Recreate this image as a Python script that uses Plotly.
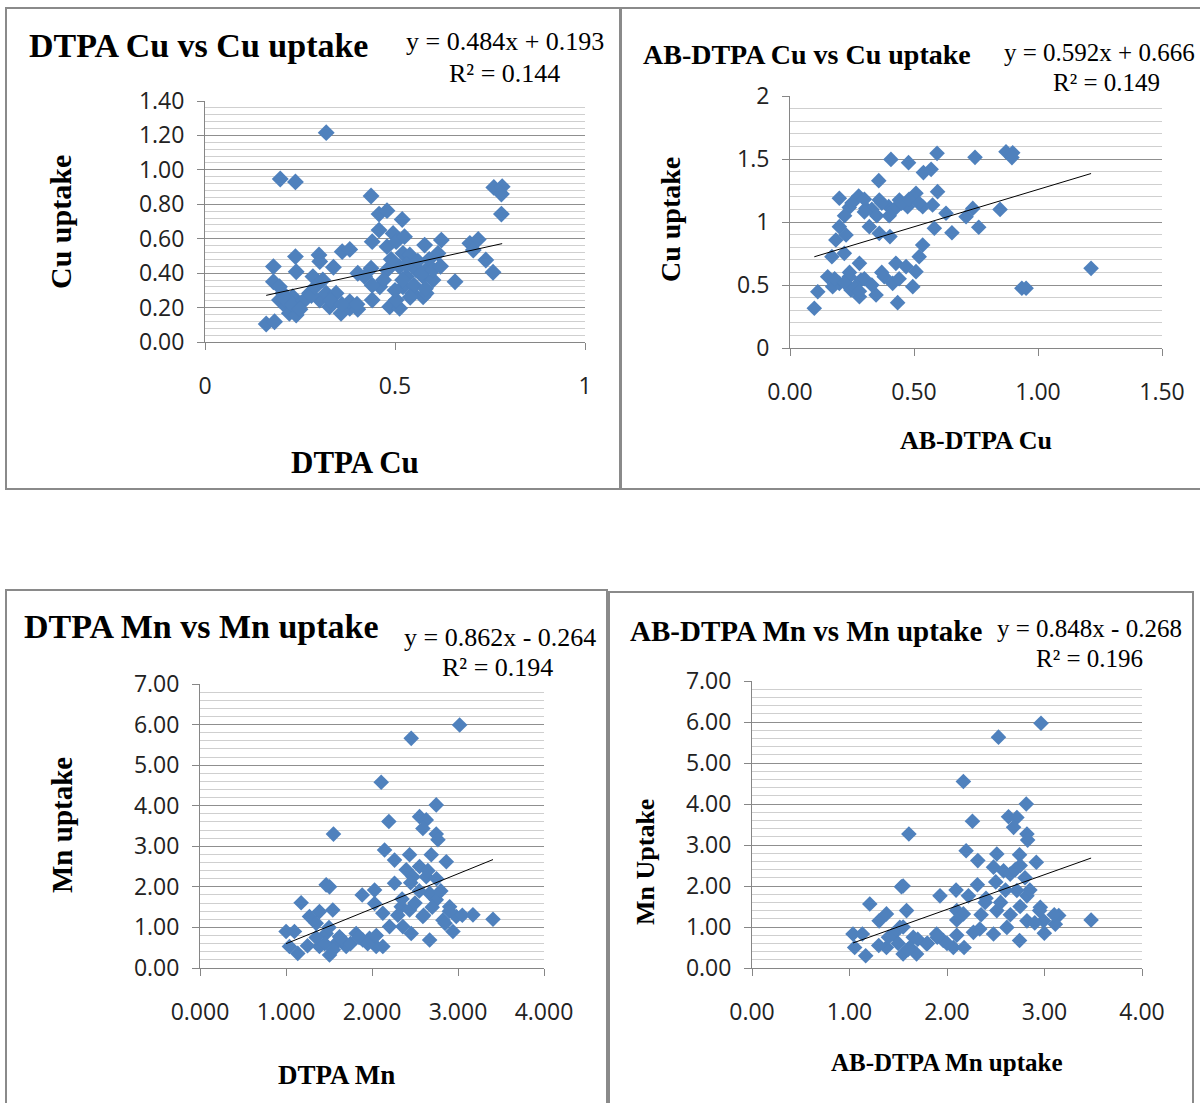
import plotly.graph_objects as go

# ---------------- data ----------------
cu_dtpa_x = [0.319, 0.198, 0.238, 0.437, 0.458, 0.479, 0.519, 0.760, 0.782, 0.780, 0.780,
             0.440, 0.458, 0.479, 0.495, 0.503, 0.525, 0.521, 0.539, 0.578, 0.622, 0.613,
             0.697, 0.719, 0.706, 0.739, 0.758, 0.658, 0.361, 0.381, 0.300, 0.302, 0.238,
             0.240, 0.180, 0.180, 0.338, 0.284, 0.402, 0.437, 0.460, 0.440, 0.479, 0.512,
             0.530, 0.556, 0.574, 0.591, 0.600, 0.521, 0.547, 0.574, 0.582, 0.486, 0.512,
             0.503, 0.161, 0.183, 0.196, 0.214, 0.222, 0.240, 0.253, 0.231, 0.205, 0.275,
             0.302, 0.319, 0.345, 0.358, 0.381, 0.381, 0.402, 0.196, 0.328,
             0.530, 0.550, 0.570, 0.590, 0.600, 0.560, 0.520, 0.500, 0.540, 0.580, 0.620,
             0.490, 0.470, 0.440, 0.420, 0.210, 0.230, 0.260, 0.280, 0.250, 0.330, 0.360,
             0.400, 0.290, 0.310]
cu_dtpa_y = [1.216, 0.947, 0.930, 0.848, 0.743, 0.763, 0.712, 0.898, 0.902, 0.860, 0.743,
             0.583, 0.650, 0.554, 0.631, 0.583, 0.612, 0.515, 0.505, 0.563, 0.592, 0.515,
             0.573, 0.596, 0.534, 0.476, 0.405, 0.350, 0.525, 0.538, 0.505, 0.467, 0.496,
             0.408, 0.438, 0.350, 0.434, 0.380, 0.399, 0.428, 0.321, 0.244, 0.418, 0.438,
             0.380, 0.418, 0.380, 0.438, 0.360, 0.321, 0.283, 0.263, 0.283, 0.205, 0.196,
             0.244, 0.105, 0.118, 0.244, 0.205, 0.167, 0.157, 0.225, 0.263, 0.283, 0.283,
             0.244, 0.283, 0.283, 0.167, 0.196, 0.234, 0.190, 0.321, 0.205,
             0.450, 0.330, 0.400, 0.480, 0.420, 0.470, 0.360, 0.300, 0.260, 0.310, 0.440,
             0.480, 0.360, 0.330, 0.380, 0.250, 0.220, 0.240, 0.270, 0.190, 0.240, 0.220,
             0.220, 0.320, 0.360]

cu_ab_x = [0.407, 0.478, 0.593, 0.746, 0.871, 0.898, 0.895, 0.538, 0.569, 0.358, 0.595,
           0.199, 0.277, 0.239, 0.306, 0.360, 0.398, 0.441, 0.474, 0.508, 0.535, 0.575,
           0.629, 0.737, 0.710, 0.847, 0.582, 0.653, 0.761, 0.199, 0.226, 0.185, 0.360,
           0.403, 0.320, 0.169, 0.219, 0.535, 0.521, 0.152, 0.112, 0.098, 0.199, 0.239,
           0.280, 0.286, 0.280, 0.347, 0.380, 0.414, 0.427, 0.434, 0.495, 0.508, 0.468,
           0.935, 0.952, 1.214, 0.246, 0.172,
           0.250, 0.300, 0.330, 0.370, 0.420, 0.450, 0.480, 0.520, 0.400, 0.350, 0.300,
           0.220, 0.180, 0.220, 0.260, 0.300, 0.330, 0.240, 0.280, 0.370, 0.440]
cu_ab_y = [1.497, 1.471, 1.545, 1.513, 1.558, 1.550, 1.511, 1.392, 1.418, 1.328, 1.241,
           1.188, 1.206, 1.116, 1.108, 1.175, 1.122, 1.175, 1.122, 1.228, 1.122, 1.135,
           1.069, 1.108, 1.042, 1.100, 0.950, 0.915, 0.958, 0.963, 0.897, 0.857, 0.910,
           0.884, 0.963, 0.725, 0.751, 0.817, 0.725, 0.566, 0.447, 0.315, 0.513, 0.566,
           0.672, 0.540, 0.407, 0.421, 0.566, 0.513, 0.672, 0.360, 0.487, 0.606, 0.646,
           0.474, 0.474, 0.632, 0.460, 0.487,
           1.150, 1.180, 1.100, 1.150, 1.100, 1.150, 1.180, 1.150, 1.050, 1.050, 1.080,
           1.050, 0.550, 0.520, 0.480, 0.550, 0.500, 0.600, 0.450, 0.600, 0.550]

mn_dtpa_x = [3.019, 2.456, 2.107, 2.747, 2.196, 1.552, 2.553, 2.631, 2.592, 2.747, 2.767,
             2.146, 2.262, 2.437, 2.689, 2.864, 2.398, 2.553, 2.631, 2.476, 1.506, 1.467,
             1.886, 2.030, 2.262, 1.176, 2.030, 2.340, 2.437, 2.670, 2.747, 2.903, 3.174,
             3.407, 2.980, 2.825, 2.592, 2.359, 2.204, 2.456, 2.670, 2.941, 2.126, 1.389,
             1.273, 1.351, 1.544, 1.001, 1.098, 1.040, 1.137, 1.389, 1.506, 1.583, 1.700,
             1.816, 1.893, 2.049, 2.126, 1.971, 1.622, 1.467,
             2.500, 2.600, 2.700, 2.800, 2.900, 2.550, 2.450, 2.350, 2.650, 2.750, 2.300,
             2.850, 3.050, 1.450, 1.550, 1.650, 1.750, 1.850, 1.950, 2.050, 1.350, 1.250,
             1.500]
mn_dtpa_y = [5.99, 5.66, 4.58, 4.02, 3.61, 3.30, 3.73, 3.65, 3.44, 3.30, 3.16,
             2.91, 2.66, 2.79, 2.79, 2.62, 2.42, 2.50, 2.25, 2.25, 2.00, 2.05,
             1.80, 1.92, 2.09, 1.61, 1.59, 1.51, 1.43, 1.84, 1.68, 1.51, 1.31,
             1.20, 1.27, 1.18, 1.27, 1.02, 1.02, 0.85, 0.69, 0.90, 1.35, 1.39,
             1.27, 1.10, 1.43, 0.90, 0.90, 0.53, 0.36, 0.53, 0.32, 0.61, 0.53,
             0.85, 0.69, 0.53, 0.53, 0.73, 0.77, 0.85,
             1.60, 1.30, 1.50, 1.90, 1.40, 1.90, 2.10, 1.70, 2.40, 2.20, 1.30,
             1.10, 1.30, 0.60, 0.45, 0.70, 0.60, 0.75, 0.60, 0.80, 0.75, 0.55,
             1.00]

mn_ab_x = [2.964, 2.528, 2.168, 2.813, 2.261, 1.609, 2.631, 2.717, 2.683, 2.820, 2.827,
           2.196, 2.316, 2.511, 2.744, 2.916, 2.477, 2.580, 2.648, 2.751, 1.533, 1.550,
           1.928, 2.093, 2.312, 1.208, 2.220, 2.100, 2.168, 2.391, 2.511, 2.717, 2.820,
           2.957, 3.146, 3.478, 2.990, 2.820, 2.614, 2.336, 2.477, 2.271, 2.744, 2.998,
           3.111, 2.100, 1.036, 1.132, 1.053, 1.166, 1.304, 1.379, 1.585, 1.379, 1.448,
           1.550, 1.619, 1.688, 1.790, 1.894, 1.962, 2.065, 2.175, 1.654, 1.516,
           2.550, 2.650, 2.750, 2.850, 2.950, 2.600, 2.500, 2.400, 2.700, 2.800, 2.350,
           2.900, 3.100, 1.500, 1.600, 1.700, 1.800, 1.900, 2.000, 2.100, 1.400, 1.300,
           1.550]
mn_ab_y = [5.97, 5.63, 4.55, 4.00, 3.58, 3.27, 3.69, 3.67, 3.43, 3.27, 3.12,
           2.86, 2.62, 2.78, 2.76, 2.58, 2.46, 2.37, 2.29, 2.50, 1.98, 2.00,
           1.76, 1.90, 2.03, 1.56, 1.76, 1.40, 1.32, 1.60, 1.40, 1.89, 1.76,
           1.48, 1.28, 1.17, 1.15, 1.15, 0.99, 0.95, 0.83, 0.87, 0.67, 0.85,
           1.07, 1.17, 0.83, 0.83, 0.50, 0.30, 1.15, 1.32, 1.40, 0.50, 0.83,
           0.34, 0.50, 0.34, 0.59, 0.83, 0.67, 0.50, 0.50, 0.75, 0.99,
           1.60, 1.30, 1.50, 1.90, 1.40, 1.90, 2.10, 1.70, 2.40, 2.20, 1.30,
           1.10, 1.30, 0.60, 0.45, 0.70, 0.60, 0.75, 0.60, 0.80, 0.75, 0.55,
           1.00]

# trendline coefficients as printed on the chart
fit_slope = [0.484, 0.592, 0.862, 0.848]
fit_icept = [0.193, 0.666, -0.264, -0.268]
eq_text = ["y = 0.484x + 0.193", "y = 0.592x + 0.666", "y = 0.862x - 0.264", "y = 0.848x - 0.268"]
r2_text = ["R² = 0.144", "R² = 0.149", "R² = 0.194", "R² = 0.196"]

titles = ["DTPA Cu vs Cu uptake", "AB-DTPA Cu vs Cu uptake",
          "DTPA Mn vs Mn uptake", "AB-DTPA Mn vs Mn uptake"]
x_titles = ["DTPA Cu", "AB-DTPA Cu", "DTPA Mn", "AB-DTPA Mn uptake"]
y_titles = ["Cu uptake", "Cu uptake", "Mn uptake", "Mn Uptake"]

p2_ytick_vals = [0, 0.5, 1, 1.5, 2]
p2_ytick_text = ["0", "0.5", "1", "1.5", "2"]

series = [(cu_dtpa_x, cu_dtpa_y), (cu_ab_x, cu_ab_y), (mn_dtpa_x, mn_dtpa_y), (mn_ab_x, mn_ab_y)]

# ---------------- layout helpers ----------------
W, H = 1200, 1103
def px(x): return x / W
def py(y): return 1 - y / H

BLUE = "#4F81BD"
AX = "#868686"
MAJ = "#8f8f8f"
MIN = "#cfcfcf"
TICKFONT = dict(family="Open Sans, Lato, Arial", size=23, color="#222")
SERIF = "Liberation Serif, Times New Roman, serif"

fig = go.Figure()
marker_sizes = [13, 12, 12, 12]
for i, (xs, ys) in enumerate(series):
    ax = "" if i == 0 else str(i + 1)
    fig.add_trace(go.Scatter(x=xs, y=ys, mode="markers",
                             marker=dict(symbol="diamond", size=marker_sizes[i], color=BLUE,
                                         line=dict(width=0)),
                             xaxis="x" + ax, yaxis="y" + ax, showlegend=False,
                             hoverinfo="skip"))
    x0, x1 = min(xs), max(xs)
    fig.add_trace(go.Scatter(x=[x0, x1],
                             y=[fit_slope[i] * x0 + fit_icept[i], fit_slope[i] * x1 + fit_icept[i]],
                             mode="lines", line=dict(color="black", width=1),
                             xaxis="x" + ax, yaxis="y" + ax, showlegend=False, hoverinfo="skip"))

# plot-area pixel boxes: (left, right, top, bottom)
boxes = [(205, 585, 101, 342), (790, 1162, 96, 348), (200, 544, 684, 968), (752, 1142, 681, 968)]
xranges = [[0, 1], [0, 1.5], [0, 4], [0, 4]]
xdticks = [0.5, 0.5, 1, 1]
xfmts = ["", ".2f", ".3f", ".2f"]
yranges = [[0, 1.4], [0, 2], [0, 7], [0, 7]]
ydticks = [0.2, 0.5, 1, 1]
yminor = [0.04, 0.1, 0.2, 0.2]
yfmts = [".2f", None, ".2f", ".2f"]

layout = dict(width=W, height=H, margin=dict(l=0, r=0, t=0, b=0, autoexpand=False),
              paper_bgcolor="white", plot_bgcolor="white", showlegend=False)
for i in range(4):
    l, r, t, b = boxes[i]
    sfx = "" if i == 0 else str(i + 1)
    xa = dict(domain=[px(l), px(r)], range=xranges[i], dtick=xdticks[i], tick0=0,
              tickformat=xfmts[i], showgrid=False, zeroline=False, showline=True,
              linecolor=AX, linewidth=1, ticks="outside", ticklen=7, tickcolor=AX,
              tickfont=TICKFONT, ticklabelstandoff=16, anchor="y" + sfx, fixedrange=True)
    ya = dict(domain=[py(b), py(t)], range=yranges[i], dtick=ydticks[i], tick0=0,
              showgrid=True, gridcolor=MAJ, gridwidth=1, zeroline=False, showline=True,
              linecolor=AX, linewidth=1, ticks="outside", ticklen=7, tickcolor=AX,
              tickfont=TICKFONT, ticklabelstandoff=8, anchor="x" + sfx, fixedrange=True,
              minor=dict(dtick=yminor[i], showgrid=True, gridcolor=MIN, gridwidth=1, ticks=""))
    if yfmts[i]:
        ya["tickformat"] = yfmts[i]
    else:
        ya["tickmode"] = "array"
        ya["tickvals"] = p2_ytick_vals
        ya["ticktext"] = p2_ytick_text
    layout["xaxis" + sfx] = xa
    layout["yaxis" + sfx] = ya

fig.update_layout(**layout)

# panel borders
borders = [(6, 620, 8, 489), (621, 1210, 8, 489), (6, 607, 590, 1110), (609, 1193, 592, 1110)]
for (l, r, t, b) in borders:
    fig.add_shape(type="rect", xref="paper", yref="paper",
                  x0=px(l), x1=px(r), y0=py(b), y1=py(t),
                  line=dict(color="#8a8a8a", width=2), fillcolor="rgba(0,0,0,0)", layer="above")

def ann(text, x, y, size, bold=False, xanchor="center", angle=0, family=SERIF):
    t = "<b>" + text + "</b>" if bold else text
    fig.add_annotation(text=t, x=px(x), y=py(y), xref="paper", yref="paper",
                       showarrow=False, xanchor=xanchor, yanchor="middle", textangle=angle,
                       font=dict(family=family, size=size, color="black"))

# titles
ann(titles[0], 27, 46, 34, True, "left")
ann(titles[1], 641, 55, 28, True, "left")
ann(titles[2], 22, 626, 34, True, "left")
ann(titles[3], 628, 631, 29, True, "left")
# equations
ann(eq_text[0], 606, 42, 26, False, "right")
ann(r2_text[0], 562, 73, 26, False, "right")
ann(eq_text[1], 1197, 53, 25, False, "right")
ann(r2_text[1], 1162, 83, 25, False, "right")
ann(eq_text[2], 598, 637, 26, False, "right")
ann(r2_text[2], 555, 667, 26, False, "right")
ann(eq_text[3], 1184, 628, 25, False, "right")
ann(r2_text[3], 1145, 658, 25, False, "right")
# axis titles
ann(x_titles[0], 355, 462, 31, True)
ann(x_titles[1], 976, 440, 26, True)
ann(x_titles[2], 336, 1075, 27, True)
ann(x_titles[3], 947, 1062, 25, True)
ann(y_titles[0], 60, 222, 30, True, angle=-90)
ann(y_titles[1], 670, 220, 28, True, angle=-90)
ann(y_titles[2], 62, 825, 29, True, angle=-90)
ann(y_titles[3], 645, 862, 26, True, angle=-90)

fig.write_html("out.html")
